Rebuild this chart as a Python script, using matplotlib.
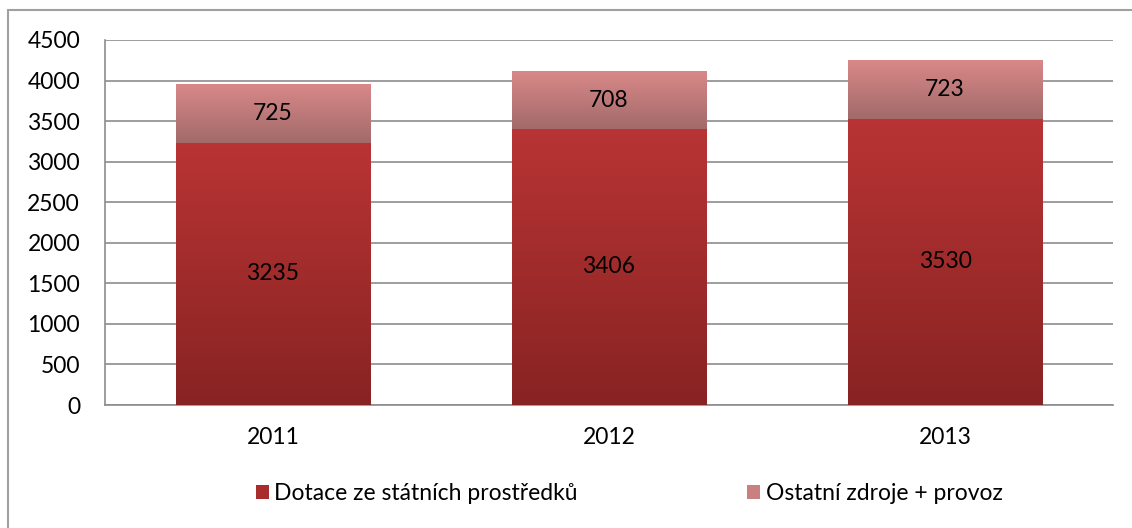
import numpy as np
import matplotlib
matplotlib.use("Agg")
import matplotlib.pyplot as plt
from matplotlib.colors import LinearSegmentedColormap
from matplotlib.patches import Rectangle

plt.rcParams['font.family'] = ['Lato', 'DejaVu Sans']

years = ['2011', '2012', '2013']
dotace = [3235, 3406, 3530]
ostatni = [725, 708, 723]
labels = ['Dotace ze státních prostředků', 'Ostatní zdroje + provoz']

FS = 16.5

fig = plt.figure(figsize=(11.32, 5.28), dpi=100)
# outer chart frame (right and bottom edges fall outside the picture)
fig.patches.append(Rectangle((8 / 1132, -10 / 528), 1140 / 1132, 528 / 528,
                             transform=fig.transFigure, fill=False,
                             edgecolor='#a0a0a0', linewidth=1.5))

ax = fig.add_axes([105 / 1132, 1 - 405 / 528, 1008 / 1132, 365 / 528])

x = np.arange(len(years))
w = 0.58
b1 = ax.bar(x, dotace, w, color='#b03030', zorder=2, label=labels[0])
b2 = ax.bar(x, ostatni, w, bottom=dotace, color='#c98080', zorder=2, label=labels[1])

cm1 = LinearSegmentedColormap.from_list('c1', ['#882323', '#b93434'])
cm2 = LinearSegmentedColormap.from_list('c2', ['#a26a6a', '#d98888'])
grad = np.linspace(0, 1, 256).reshape(-1, 1)
for bars, cm in ((b1, cm1), (b2, cm2)):
    for p in bars:
        x0, y0 = p.get_x(), p.get_y()
        x1, y1 = x0 + p.get_width(), y0 + p.get_height()
        im = ax.imshow(grad, cmap=cm, aspect='auto', origin='lower',
                       extent=[x0, x1, y0, y1], zorder=3)
        im.set_clip_path(p)
        p.set_facecolor('none')

for i in range(len(years)):
    ax.text(x[i], dotace[i] / 2, str(dotace[i]), ha='center', va='center',
            fontsize=FS, zorder=5)
    ax.text(x[i], dotace[i] + ostatni[i] / 2, str(ostatni[i]), ha='center',
            va='center', fontsize=FS, zorder=5)

ax.set_xlim(-0.5, 2.5)
ax.set_ylim(0, 4500)
ax.set_yticks(range(0, 4501, 500))
ax.set_xticks(x)
ax.set_xticklabels(years)
ax.yaxis.grid(True, color='#8c8c8c', linewidth=1.2, zorder=0)
ax.set_axisbelow(True)
for s in ['top', 'right']:
    ax.spines[s].set_visible(False)
for s in ['left', 'bottom']:
    ax.spines[s].set_color('#8c8c8c')
    ax.spines[s].set_linewidth(1.2)
ax.tick_params(axis='both', labelsize=FS, length=0, labelcolor='black')
ax.tick_params(axis='x', pad=16)
ax.tick_params(axis='y', pad=18)

h = [Rectangle((0, 0), 1, 1, facecolor='#a82e2e'), Rectangle((0, 0), 1, 1, facecolor='#c98080')]
fig.legend(h, labels, loc='center', bbox_to_anchor=(0.556, 1 - 494 / 528), ncol=2,
           frameon=False, fontsize=FS, handlelength=0.55, handleheight=0.55,
           handletextpad=0.25, columnspacing=7.4)

fig.savefig('out.png', dpi=100)
